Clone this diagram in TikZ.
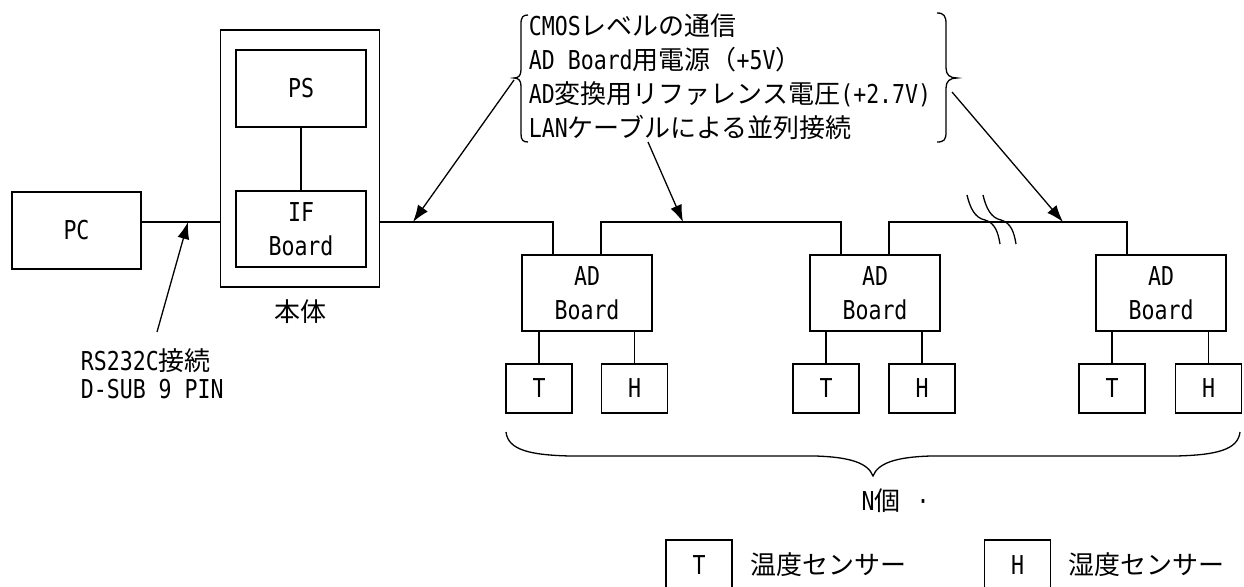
\documentclass[tikz,border=0pt]{standalone}
\usepackage{fontspec}
\setmainfont{Noto Sans CJK JP}
\newfontfamily\hwfont{DejaVu Sans Mono}[FakeStretch=0.83]
\newcommand\hw[1]{{\hwfont #1}}
\newcommand\fs{\fontsize{26}{34}\selectfont}
\usetikzlibrary{arrows.meta,calc}
\begin{document}
\begin{tikzpicture}[x=1pt,y=-1pt, line width=1.6pt,
  box/.style={draw, inner sep=0pt, font=\fs\hwfont, align=center},
  lbl/.style={inner sep=0pt, font=\fs},
  arr/.style={-{Latex[length=17pt,width=12pt]}, line width=1.3pt},
  thin/.style={line width=1.3pt}]
\useasboundingbox (0,0) rectangle (1244,586);

% main units
\node[box, minimum width=129pt, minimum height=77pt] (pc) at (76.5,230.5) {PC};
\node[box, minimum width=159pt, minimum height=257pt] (main) at (300,158.5) {};
\node[box, minimum width=130pt, minimum height=77pt] (ps) at (301,88.5) {PS};
\node[box, minimum width=130pt, minimum height=76pt] (if) at (301,229) {IF\\Board};
\node[lbl, anchor=base] (hontai) at (300,321) {本体};

% AD boards
\node[box, minimum width=130pt, minimum height=76pt] (ad1) at (587,293) {AD\\Board};
\node[box, minimum width=130pt, minimum height=76pt] (ad2) at (875,293) {AD\\Board};
\node[box, minimum width=130pt, minimum height=76pt] (ad3) at (1161,293) {AD\\Board};

% sensors
\foreach \i/\x in {1/539,2/826,3/1112}{
  \node[box, minimum width=66pt, minimum height=49pt] (t\i) at (\x,388.5) {T};
}
\foreach \i/\x in {1/634.5,2/922,3/1208.5}{
  \node[box, minimum width=66pt, minimum height=49pt] (h\i) at (\x,388.5) {H};
}
\foreach \i in {1,2,3}{
  \draw (t\i.north) -- (t\i.north |- ad\i.south);
  \draw (h\i.north) -- (h\i.north |- ad\i.south);
}

% bus
\coordinate (bus) at (0,222);
\coordinate (ad1in) at ($(ad1.north west)+(32,0)$);
\coordinate (ad1out) at ($(ad1.north west)+(80,0)$);
\coordinate (ad2in) at ($(ad2.north west)+(32,0)$);
\coordinate (ad2out) at ($(ad2.north west)+(80,0)$);
\coordinate (ad3in) at ($(ad3.north west)+(32,0)$);
\draw (pc.east |- bus) -- (main.west |- bus);
\draw (ps.south) -- (if.north);
\draw (main.east |- bus) -| (ad1in);
\draw (ad1out) |- (bus -| ad2in) -- (ad2in);
\draw (ad2out) |- (bus -| ad3in) -- (ad3in);

% break mark
\draw[thin] (967,195) .. controls (970,208) and (975,218) .. (985,220) .. controls (995,223) and (998,232) .. (1000,244);
\draw[thin] (983,195) .. controls (986,208) and (991,218) .. (1001,220) .. controls (1011,223) and (1014,232) .. (1016,244);

% top annotation
\node[lbl, anchor=base west] (l1) at (528,35.5) {\hw{CMOS}レベルの通信};
\node[lbl, anchor=base west] (l2) at (528,69.5) {\hw{AD Board}用電源（\hw{+5V}）};
\node[lbl, anchor=base west] (l3) at (528,103.5) {\hw{AD}変換用リファレンス電圧\hw{(+2.7V)}};
\node[lbl, anchor=base west] (l4) at (528,137.5) {\hw{LAN}ケーブルによる並列接続};
\draw[thin] (528,15) .. controls (523,15) and (521,17) .. (521,24) -- (521,70)
  .. controls (521,76) and (518,78) .. (514,78) .. controls (518,78) and (521,80) .. (521,86)
  -- (521,134) .. controls (521,140) and (523,142) .. (528,142);
\draw[thin] (937,13) .. controls (944,13) and (946,16) .. (946,24) -- (946,68)
  .. controls (946,75) and (950,78) .. (957,78) .. controls (950,78) and (946,81) .. (946,88)
  -- (946,132) .. controls (946,140) and (944,142) .. (937,142);
\coordinate (a1s) at (514,80);
\coordinate (a1e) at (413,222);
\coordinate (a2s) at (648,142);
\coordinate (a2e) at (683,222);
\coordinate (a3s) at (952,92);
\coordinate (a3e) at (1063,222);
\draw[arr] (a1s) -- (a1e);
\draw[arr] (a2s) -- (a2e);
\draw[arr] (a3s) -- (a3e);

% RS232C
\node[lbl, anchor=base west] (rs1) at (80,370) {\hw{RS232C}接続};
\node[lbl, anchor=base west] (rs2) at (80,398) {\hw{D-SUB 9 PIN}};
\coordinate (rss) at (157,332);
\coordinate (rse) at (188,222);
\draw[arr] (rss) -- (rse);

% bottom brace
\draw[thin] (506,432) .. controls (508,450) and (530,455) .. (570,456) -- (815,456)
  .. controls (850,457) and (868,463) .. (873,476)
  .. controls (878,463) and (896,457) .. (931,456) -- (1176,456)
  .. controls (1216,455) and (1238,450) .. (1240,432);
\node[lbl, anchor=base] (nko) at (881,510) {\hw{N}個};
\node[lbl, anchor=base] (dot) at (923,510) {\hw{·}};

% legend
\node[box, minimum width=66pt, minimum height=50pt] (lt) at (699,565) {T};
\node[lbl, anchor=base west] (ltx) at (750,574) {温度センサー};
\node[box, minimum width=66pt, minimum height=50pt] (lh) at (1017.5,565) {H};
\node[lbl, anchor=base west] (lhx) at (1068,574) {湿度センサー};
\end{tikzpicture}
\end{document}
